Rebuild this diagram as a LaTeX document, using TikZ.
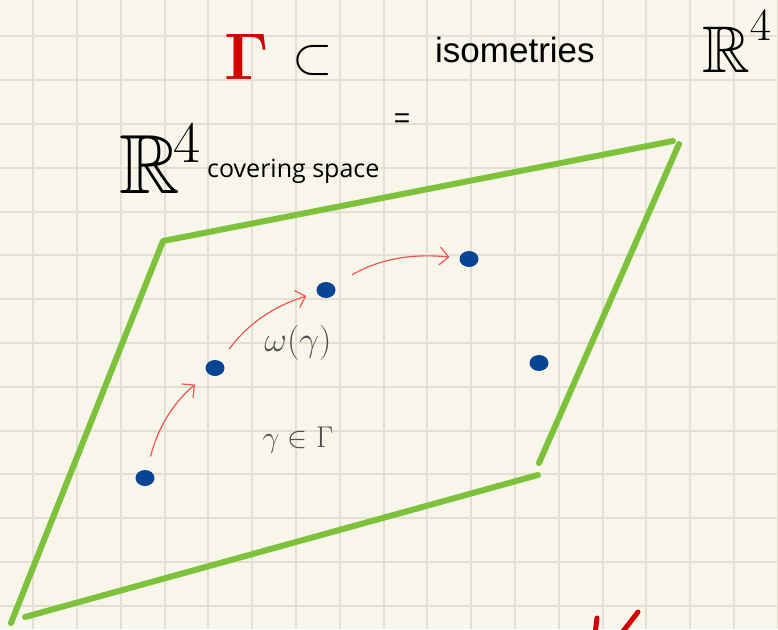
\RequirePackage{fix-cm}
\documentclass[tikz,border=0pt]{standalone}
\usepackage{amsmath}
\usepackage{amssymb}
\usepackage[no-math]{fontspec}
\usetikzlibrary{arrows.meta, shapes.geometric}
\newfontfamily\isofont{Liberation Sans}
\newfontfamily\covfont{Open Sans}
\definecolor{paper}{RGB}{248,246,234}
\definecolor{gridc}{RGB}{226,224,211}
\definecolor{cellc}{RGB}{125,194,58}
\definecolor{dotc}{RGB}{8,68,148}
\definecolor{movec}{RGB}{240,85,85}
\definecolor{groupc}{RGB}{212,0,0}
\definecolor{inkc}{RGB}{80,80,80}

\begin{document}
\begin{tikzpicture}[x=1pt, y=-1pt,
    cell/.style={cellc, line width=6pt, line cap=round, line join=round},
    pt/.style={ellipse, fill=dotc, inner sep=0pt, minimum width=19pt,
      minimum height=16pt},
    move/.style={-{Straight Barb[length=9pt, width=18pt]}, movec, line width=1.2pt},
    hand/.style={inner sep=0pt, text=inkc},
    word/.style={inner sep=0pt, anchor=base west}]
  % paper and grid
  \fill[paper] (0,0) rectangle (778,629);
  \useasboundingbox (0,0) rectangle (778,629);
  \foreach \i in {0,...,17}
    \draw[gridc, line width=2pt] ({33.1+43.8*\i},0) -- ++(0,629);
  \foreach \j in {0,...,13}
    \draw[gridc, line width=2pt] (0,{36.4+43.8*\j}) -- ++(778,0);
  % fundamental domain
  \draw[cell] (673,141) -- (163,241) -- (11,623);
  \draw[cell] (679,144) -- (539,463);
  \draw[cell] (538,475) -- (25,617);
  % orbit points
  \foreach \n/\x/\y in {p1/145/478, p2/215/368, p3/326/290, p4/469/259, p5/539/363}
    \node[pt] (\n) at (\x,\y) {};
  \foreach \a/\b/\s/\e in {p1/p2/14/17, p2/p3/15/11, p3/p4/21/10}
    \draw[move, shorten <=\s pt, shorten >=\e pt] (\a) to[bend left=18] (\b);
  % texts
  \node[inner sep=0pt, text=groupc, font=\fontsize{66}{66}\selectfont] (gam)
    at (247,57) {$\boldsymbol{\Gamma}$};
  \node[inner sep=0pt, font=\fontsize{52}{52}\selectfont] (sub) at (313,60) {$\subset$};
  \node[word, font=\isofont\fontsize{35}{35}\selectfont] (iso) at (435,62) {isometries};
  \node[word, font=\fontsize{66}{66}\selectfont] (Rtop) at (702,72)
    {$\mathbb{R}^{\raisebox{8pt}{$\scriptstyle 4$}}$};
  \node[inner sep=0pt, font=\isofont\fontsize{28}{28}\selectfont] (eq) at (402,121) {=};
  \node[word, font=\fontsize{84}{84}\selectfont] (Rbig) at (119,193)
    {$\mathbb{R}^{\kern-6pt 4}$};
  \node[word, font=\covfont\fontsize{25}{25}\selectfont] (cov) at (207,177) {covering space};
  \node[hand, font=\fontsize{35}{35}\selectfont] (om) at (298,343) {$\omega(\gamma)$};
  \node[hand, font=\fontsize{30}{30}\selectfont] (gin) at (298,440) {$\gamma\in\Gamma$};
  % red mark at the bottom edge
  \draw[groupc, line width=5pt, line cap=round] (597,618) -- (595,634);
  \draw[groupc, line width=5pt, line cap=round] (638,612) -- (621,634);
\end{tikzpicture}
\end{document}
